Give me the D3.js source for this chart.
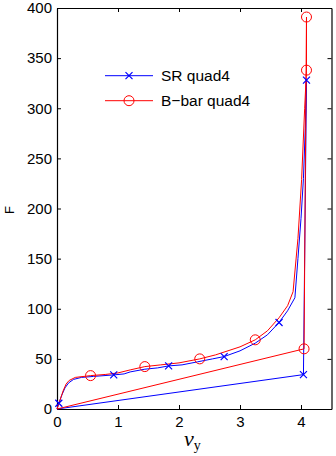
<!DOCTYPE html>
<html>
<head>
<meta charset="utf-8">
<script src="https://cdn.jsdelivr.net/npm/d3@7"></script>
<style>
  body { margin: 0; background: #fff; }
  svg { display: block; font-family: "Liberation Sans", Arial, sans-serif; }
</style>
</head>
<body>
<div class="chart"></div>
<script>
// load path then unload back to the origin
const srVy = [0, 0.03, 0.08, 0.13, 0.19, 0.27, 0.4, 0.6, 0.93, 1.1, 1.2, 1.44, 1.65, 1.83, 2.05, 2.3, 2.55, 2.74, 3.0, 3.25, 3.45, 3.64, 3.78, 3.9, 3.95, 4.0, 4.04, 4.07, 4.09, 4.04, 0]
const srF = [0, 5.7, 14, 21, 26, 29.5, 31.5, 32.5, 34, 35, 37, 39.7, 41, 43, 44, 47, 50, 52.3, 58, 65.7, 74, 86.3, 98, 111, 150, 190, 230, 280, 328, 34.3, 0]

const bbarVy = [0, 0.05, 0.1, 0.15, 0.2, 0.3, 0.55, 0.8, 1.0, 1.2, 1.44, 1.7, 2.0, 2.34, 2.6, 3.0, 3.25, 3.45, 3.64, 3.78, 3.87, 3.95, 4.01, 4.06, 4.09, 4.09, 4.05, 0]
const bbarF = [0, 9, 18, 25, 28.5, 31.5, 33.3, 34.5, 36, 39, 42.3, 44, 46, 50, 54, 62, 69, 78, 91, 103, 117, 170, 229, 300, 338, 391, 60, 0]

const srMarkVy = [0.03, 0.93, 1.83, 2.74, 3.64, 4.09, 4.04]
const srMarkF = [5.7, 34, 43, 52.3, 86.3, 328, 34.3]
const bbarMarkVy = [0.55, 1.44, 2.34, 3.25, 4.09, 4.09, 4.05]
const bbarMarkF = [33.3, 42.3, 50, 69, 338, 391, 60]

const xTicks = [0, 1, 2, 3, 4]
const yTicks = [0, 50, 100, 150, 200, 250, 300, 350, 400]

const svgWidth = 336
const svgHeight = 456

let svg = d3.select(".chart")
  .append("svg")
  .attr("width", svgWidth)
  .attr("height", svgHeight)

let x = d3.scaleLinear().domain([0, 4.5]).range([57, 331.5])
let y = d3.scaleLinear().domain([0, 400]).range([409, 8])

// axes, MATLAB style: inward ticks, mirrored box
svg.append("g")
  .attr("transform", "translate(0,409)")
  .call(d3.axisBottom(x).tickValues(xTicks).tickFormat(d3.format("d")).tickSize(-4).tickPadding(7).tickSizeOuter(0))
svg.append("g")
  .attr("transform", "translate(0,8)")
  .call(d3.axisTop(x).tickValues(xTicks).tickSize(-4).tickFormat("").tickSizeOuter(0))
svg.append("g")
  .attr("transform", "translate(57,0)")
  .call(d3.axisLeft(y).tickValues(yTicks).tickSize(-4).tickPadding(5).tickSizeOuter(0))
svg.append("g")
  .attr("transform", "translate(331.5,0)")
  .call(d3.axisRight(y).tickValues(yTicks).tickSize(-4).tickFormat("").tickSizeOuter(0))

svg.selectAll(".domain").attr("stroke", "#000").attr("stroke-width", 1.2)
svg.selectAll(".tick line").attr("stroke", "#000")
svg.selectAll(".tick text").attr("font-size", 15).attr("fill", "#000")
  .attr("font-family", "'Liberation Sans', Arial, sans-serif")

let line = d3.line().x(d => x(d[0])).y(d => y(d[1]))

function drawSeries(vy, f, color) {
  svg.append("path")
    .datum(vy.map((v, i) => [v, f[i]]))
    .attr("d", line)
    .attr("fill", "none")
    .attr("stroke", color)
    .attr("stroke-width", 1)
}

function drawCross(g, cx, cy, color) {
  g.append("path")
    .attr("d", `M${cx - 3.5},${cy - 3.5}L${cx + 3.5},${cy + 3.5}M${cx - 3.5},${cy + 3.5}L${cx + 3.5},${cy - 3.5}`)
    .attr("stroke", color)
    .attr("stroke-width", 1.2)
}

function drawCircle(g, cx, cy, color) {
  g.append("circle")
    .attr("cx", cx)
    .attr("cy", cy)
    .attr("r", 5)
    .attr("fill", "none")
    .attr("stroke", color)
    .attr("stroke-width", 1)
}

drawSeries(srVy, srF, "#0000ff")
drawSeries(bbarVy, bbarF, "#ff0000")

let marks = svg.append("g")
srMarkVy.forEach((v, i) => drawCross(marks, x(v), y(srMarkF[i]), "#0000ff"))
bbarMarkVy.forEach((v, i) => drawCircle(marks, x(v), y(bbarMarkF[i]), "#ff0000"))

// legend
let legend = svg.append("g")
const legendItems = [
  { label: "SR quad4", color: "#0000ff", mark: drawCross },
  { label: "B\u2212bar quad4", color: "#ff0000", mark: drawCircle }
]
legendItems.forEach((d, i) => {
  let ly = 75.7 + i * 25
  legend.append("line")
    .attr("x1", 105).attr("x2", 153)
    .attr("y1", ly).attr("y2", ly)
    .attr("stroke", d.color)
  d.mark(legend, 129, ly, d.color)
  legend.append("text")
    .attr("x", 161)
    .attr("y", ly + 5.5)
    .attr("font-size", 15.5)
    .text(d.label)
})

// axis labels
svg.append("text")
  .attr("transform", "translate(14,210) rotate(-90)")
  .attr("text-anchor", "middle")
  .attr("font-size", 13)
  .text("F")

let xl = svg.append("text")
  .attr("x", 184)
  .attr("y", 446)
  .attr("font-family", "'Liberation Serif', 'DejaVu Serif', serif")
xl.append("tspan")
  .attr("font-style", "italic")
  .attr("font-size", 22)
  .text("v")
xl.append("tspan")
  .attr("font-size", 14)
  .attr("dy", 4)
  .text("y")
</script>
</body>
</html>
